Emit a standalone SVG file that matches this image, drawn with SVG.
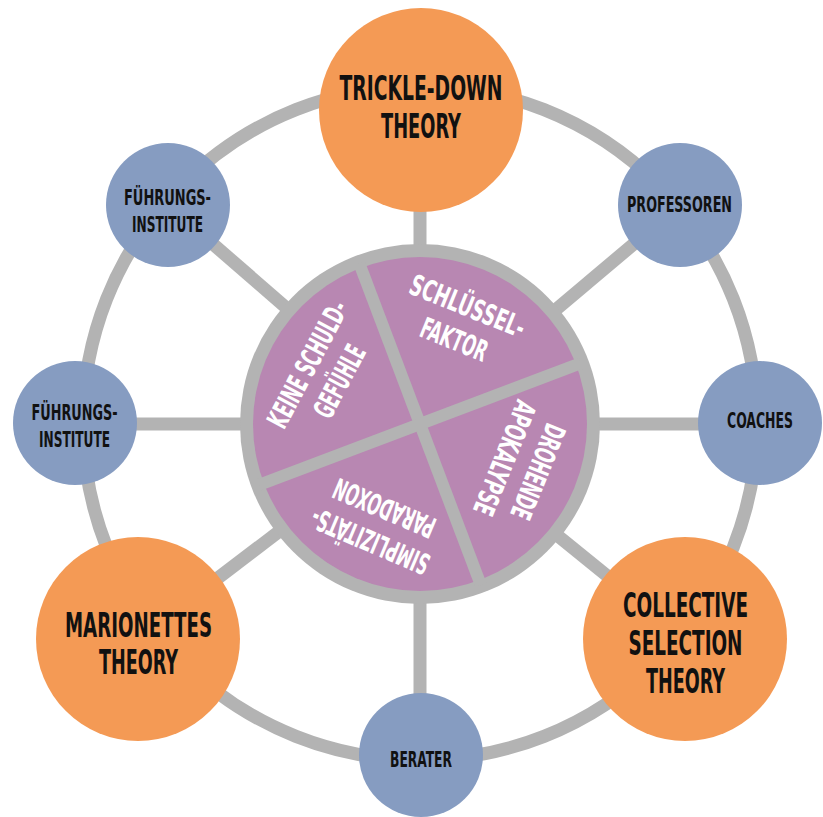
<svg xmlns="http://www.w3.org/2000/svg" width="823" height="817" viewBox="0 0 823 817">
<style>
.bg{fill:#ffffff}
.conn{stroke:#b3b3b3;stroke-width:13;fill:none}
.orange{fill:#f49a55}
.blue{fill:#869cc1}
.pieb{fill:#b3b3b3}
.piep{fill:#b887b2}
.div{stroke:#b3b3b3;stroke-width:12}
text{font-family:"Liberation Sans Narrow","DejaVu Sans Condensed","Liberation Sans",sans-serif;font-weight:bold;text-anchor:middle}
.big{font-size:34px;fill:#111111}
.small{font-size:21px;fill:#111111}
.pt{font-size:29px;fill:#ffffff}
</style>
<rect class="bg" x="0" y="0" width="823" height="817"/>
<g id="connectors">
<circle class="conn" cx="420" cy="423" r="337"/>
<line class="conn" x1="420" y1="424" x2="420" y2="110"/>
<line class="conn" x1="420" y1="424" x2="420" y2="755"/>
<line class="conn" x1="420" y1="424" x2="75" y2="424"/>
<line class="conn" x1="420" y1="424" x2="760" y2="424"/>
<line class="conn" x1="420" y1="424" x2="168" y2="205"/>
<line class="conn" x1="420" y1="424" x2="680" y2="205"/>
<line class="conn" x1="420" y1="424" x2="138" y2="639"/>
<line class="conn" x1="420" y1="424" x2="685" y2="639"/>
</g>
<g id="center-pie">
<circle class="pieb" cx="420" cy="424" r="180"/>
<circle class="piep" cx="420" cy="424" r="167"/>
<g transform="translate(420 424) rotate(-20.7)">
<line class="div" x1="0" y1="-172" x2="0" y2="172"/>
<line class="div" x1="-172" y1="0" x2="172" y2="0"/>
</g>
</g>
<g id="pie-schluesselfaktor" transform="translate(420 424) rotate(22) translate(0 -110)">
<text class="pt" x="0" y="-7" textLength="122" lengthAdjust="spacingAndGlyphs">SCHLÜSSEL-</text>
<text class="pt" x="0" y="29" textLength="70" lengthAdjust="spacingAndGlyphs">FAKTOR</text>
</g>
<g id="pie-drohende-apokalypse" transform="translate(420 424) rotate(112) translate(0 -110)">
<text class="pt" x="0" y="-7" textLength="100" lengthAdjust="spacingAndGlyphs">DROHENDE</text>
<text class="pt" x="0" y="29" textLength="121" lengthAdjust="spacingAndGlyphs">APOKALYPSE</text>
</g>
<g id="pie-simplizitaets-paradoxon" transform="translate(420 424) rotate(203) translate(0 -110)">
<text class="pt" x="0" y="-7" textLength="126" lengthAdjust="spacingAndGlyphs">SIMPLIZITÄTS-</text>
<text class="pt" x="0" y="29" textLength="108" lengthAdjust="spacingAndGlyphs">PARADOXON</text>
</g>
<g id="pie-keine-schuldgefuehle" transform="translate(420 424) rotate(-62) translate(0 -110)">
<text class="pt" x="0" y="-7" textLength="139" lengthAdjust="spacingAndGlyphs">KEINE SCHULD-</text>
<text class="pt" x="0" y="29" textLength="78" lengthAdjust="spacingAndGlyphs">GEFÜHLE</text>
</g>
<g id="trickle-down">
<circle class="orange" cx="421" cy="110" r="102"/>
<text class="big" x="421" y="100" textLength="163" lengthAdjust="spacingAndGlyphs">TRICKLE-DOWN</text>
<text class="big" x="421" y="138" textLength="80" lengthAdjust="spacingAndGlyphs">THEORY</text>
</g>
<g id="marionettes">
<circle class="orange" cx="138" cy="639" r="102"/>
<text class="big" x="138.5" y="637" textLength="147" lengthAdjust="spacingAndGlyphs">MARIONETTES</text>
<text class="big" x="138.5" y="674" textLength="79" lengthAdjust="spacingAndGlyphs">THEORY</text>
</g>
<g id="collective-selection">
<circle class="orange" cx="685" cy="639" r="102"/>
<text class="big" x="685.5" y="617" textLength="125" lengthAdjust="spacingAndGlyphs">COLLECTIVE</text>
<text class="big" x="685.5" y="655" textLength="114" lengthAdjust="spacingAndGlyphs">SELECTION</text>
<text class="big" x="685.5" y="693" textLength="79" lengthAdjust="spacingAndGlyphs">THEORY</text>
</g>
<g id="fuehrungsinstitute-top">
<circle class="blue" cx="168" cy="205" r="62"/>
<text class="small" x="167.5" y="205" textLength="87" lengthAdjust="spacingAndGlyphs">FÜHRUNGS-</text>
<text class="small" x="167.5" y="232" textLength="71" lengthAdjust="spacingAndGlyphs">INSTITUTE</text>
</g>
<g id="fuehrungsinstitute-left">
<circle class="blue" cx="75" cy="423" r="62"/>
<text class="small" x="74.5" y="420" textLength="86" lengthAdjust="spacingAndGlyphs">FÜHRUNGS-</text>
<text class="small" x="74.5" y="447" textLength="71" lengthAdjust="spacingAndGlyphs">INSTITUTE</text>
</g>
<g id="professoren">
<circle class="blue" cx="680" cy="205" r="62"/>
<text class="small" x="679.5" y="212" textLength="105" lengthAdjust="spacingAndGlyphs">PROFESSOREN</text>
</g>
<g id="coaches">
<circle class="blue" cx="760" cy="423" r="62"/>
<text class="small" x="760" y="428" textLength="66" lengthAdjust="spacingAndGlyphs">COACHES</text>
</g>
<g id="berater">
<circle class="blue" cx="421" cy="755" r="62"/>
<text class="small" x="421" y="767" textLength="62" lengthAdjust="spacingAndGlyphs">BERATER</text>
</g>
</svg>
